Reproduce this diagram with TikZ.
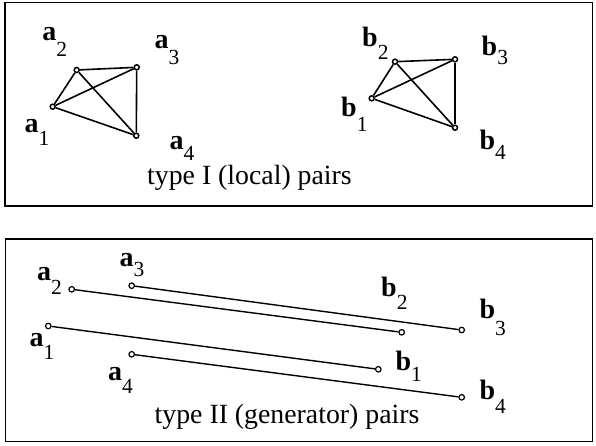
\documentclass[tikz,border=0pt]{standalone}
\usepackage{fontspec}
\setmainfont{Liberation Serif}
\newcommand\mylbl[3]{\textbf{#1}\raisebox{-#3pt}{\fontsize{21.5}{21.5}\selectfont #2}}
\begin{document}
\begin{tikzpicture}[x=1pt,y=-1pt,
  frame/.style={draw=black,line width=1.6pt},
  vtx/.style={circle,draw=black,line width=1.5pt,inner sep=0pt,minimum size=5pt,fill=white},
  gvtx/.style={circle,draw=black,line width=1.2pt,inner sep=0pt,minimum size=5.5pt,fill=white},
  edge/.style={line width=1.6pt},
  gedge/.style={line width=1.4pt},
  lab/.style={anchor=base west,inner sep=0pt,font=\fontsize{28}{28}\selectfont},
  caption/.style={anchor=base west,inner sep=0pt,font=\fontsize{27.8}{28}\selectfont}]
\useasboundingbox (0,0) rectangle (596,446);
% frames
\draw[frame] (5,2.5) rectangle (592.5,206);
\draw[frame] (5.5,239) rectangle (592.5,441.5);
% type I
\node[vtx] (A1) at (52.7,106.7) {};
\node[vtx] (A2) at (76.7,70) {};
\node[vtx] (A3) at (136.7,67.3) {};
\node[vtx] (A4) at (136.3,135.7) {};
\node[vtx] (B1) at (371.7,98.3) {};
\node[vtx] (B2) at (395,61.7) {};
\node[vtx] (B3) at (455,59.3) {};
\node[vtx] (B4) at (455,127.7) {};
\foreach \p in {A,B}{
  \draw[edge] (\p1) -- (\p2);
  \draw[edge] (\p2) -- (\p3);
  \draw[edge] (\p3) -- (\p4);
  \draw[edge] (\p4) -- (\p1);
  \draw[edge] (\p1) -- (\p3);
  \draw[edge] (\p2) -- (\p4);
}
\node[lab] (la2) at (42.2,41) {\mylbl{a}{2}{15.7}};
\node[lab] (la3) at (154.5,48.3) {\mylbl{a}{3}{16}};
\node[lab] (la1) at (24.5,132.7) {\mylbl{a}{1}{13}};
\node[lab] (la4) at (169.5,149.3) {\mylbl{a}{4}{11}};
\node[lab] (lb2) at (362,46.7) {\mylbl{b}{2}{12.6}};
\node[lab] (lb3) at (481.5,56) {\mylbl{b}{3}{9}};
\node[lab] (lb1) at (341,116.7) {\mylbl{b}{1}{15}};
\node[lab] (lb4) at (479.3,150) {\mylbl{b}{4}{10}};
\node[caption] (cap1) at (147,185) {type I (local) pairs};
% type II
\node[gvtx] (C1) at (48.3,326) {};
\node[gvtx] (C2) at (71.7,289.3) {};
\node[gvtx] (C3) at (131.7,285.7) {};
\node[gvtx] (C4) at (131.7,354.3) {};
\node[gvtx] (D1) at (378.3,369.3) {};
\node[gvtx] (D2) at (401.7,332.3) {};
\node[gvtx] (D3) at (461.7,330) {};
\node[gvtx] (D4) at (461.7,397.3) {};
\foreach \i in {1,2,3,4}{
  \draw[gedge] (C\i) -- (D\i);
}
\node[lab] (lc2) at (36.8,280) {\mylbl{a}{2}{14}};
\node[lab] (lc3) at (119.5,266.7) {\mylbl{a}{3}{10}};
\node[lab] (lc1) at (29.5,346.7) {\mylbl{a}{1}{13}};
\node[lab] (lc4) at (107.8,380) {\mylbl{a}{4}{13}};
\node[lab] (ld2) at (381,296.7) {\mylbl{b}{2}{12.6}};
\node[lab] (ld3) at (479.3,318.3) {\mylbl{b}{3}{16.7}};
\node[lab] (ld1) at (395.3,370.7) {\mylbl{b}{1}{11}};
\node[lab] (ld4) at (479.3,399.3) {\mylbl{b}{4}{14}};
\node[caption] (cap2) at (154.5,423.3) {type II (generator) pairs};
\end{tikzpicture}
\end{document}
